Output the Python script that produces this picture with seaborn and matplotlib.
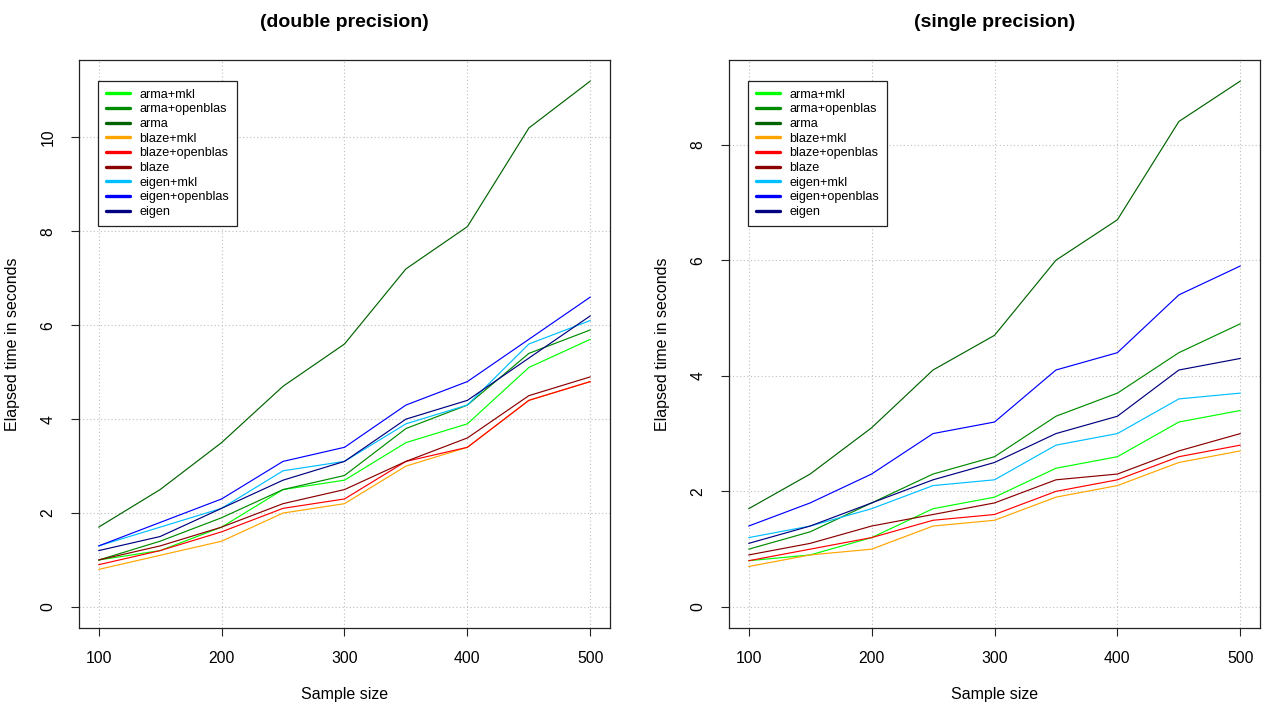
import matplotlib
matplotlib.use("Agg")
import matplotlib.pyplot as plt
from matplotlib.lines import Line2D
import seaborn as sns
import pandas as pd

# ---------------- data ----------------
sizes = [100, 150, 200, 250, 300, 350, 400, 450, 500]
series_names = ["arma+mkl", "arma+openblas", "arma",
                "blaze+mkl", "blaze+openblas", "blaze",
                "eigen+mkl", "eigen+openblas", "eigen"]
series_colors = ["#00FF00", "#008B00", "#006400",
                 "#FFA500", "#FF0000", "#8B0000",
                 "#00BFFF", "#0000FF", "#000080"]

# double precision
arma_mkl_d = [1.0, 1.2, 1.7, 2.5, 2.7, 3.5, 3.9, 5.1, 5.7]
arma_openblas_d = [1.0, 1.4, 1.9, 2.5, 2.8, 3.8, 4.3, 5.4, 5.9]
arma_d = [1.7, 2.5, 3.5, 4.7, 5.6, 7.2, 8.1, 10.2, 11.2]
blaze_mkl_d = [0.8, 1.1, 1.4, 2.0, 2.2, 3.0, 3.4, 4.4, 4.8]
blaze_openblas_d = [0.9, 1.2, 1.6, 2.1, 2.3, 3.1, 3.4, 4.4, 4.8]
blaze_d = [1.0, 1.3, 1.7, 2.2, 2.5, 3.1, 3.6, 4.5, 4.9]
eigen_mkl_d = [1.3, 1.7, 2.1, 2.9, 3.1, 3.9, 4.3, 5.6, 6.1]
eigen_openblas_d = [1.3, 1.8, 2.3, 3.1, 3.4, 4.3, 4.8, 5.7, 6.6]
eigen_d = [1.2, 1.5, 2.1, 2.7, 3.1, 4.0, 4.4, 5.3, 6.2]

# single precision
arma_mkl_s = [0.8, 0.9, 1.2, 1.7, 1.9, 2.4, 2.6, 3.2, 3.4]
arma_openblas_s = [1.0, 1.3, 1.8, 2.3, 2.6, 3.3, 3.7, 4.4, 4.9]
arma_s = [1.7, 2.3, 3.1, 4.1, 4.7, 6.0, 6.7, 8.4, 9.1]
blaze_mkl_s = [0.7, 0.9, 1.0, 1.4, 1.5, 1.9, 2.1, 2.5, 2.7]
blaze_openblas_s = [0.8, 1.0, 1.2, 1.5, 1.6, 2.0, 2.2, 2.6, 2.8]
blaze_s = [0.9, 1.1, 1.4, 1.6, 1.8, 2.2, 2.3, 2.7, 3.0]
eigen_mkl_s = [1.2, 1.4, 1.7, 2.1, 2.2, 2.8, 3.0, 3.6, 3.7]
eigen_openblas_s = [1.4, 1.8, 2.3, 3.0, 3.2, 4.1, 4.4, 5.4, 5.9]
eigen_s = [1.1, 1.4, 1.8, 2.2, 2.5, 3.0, 3.3, 4.1, 4.3]

double_vals = [arma_mkl_d, arma_openblas_d, arma_d, blaze_mkl_d, blaze_openblas_d,
               blaze_d, eigen_mkl_d, eigen_openblas_d, eigen_d]
single_vals = [arma_mkl_s, arma_openblas_s, arma_s, blaze_mkl_s, blaze_openblas_s,
               blaze_s, eigen_mkl_s, eigen_openblas_s, eigen_s]

titles = ["(double precision)", "(single precision)"]
ymax = [11.2, 9.1]
yticks_list = [[0, 2, 4, 6, 8, 10], [0, 2, 4, 6, 8]]
xticks = [100, 200, 300, 400, 500]


def long_df(vals):
    rows = []
    for name, v in zip(series_names, vals):
        for s, t in zip(sizes, v):
            rows.append({"size": s, "time": t, "series": name})
    return pd.DataFrame(rows)


# ---------------- style ----------------
sns.set_style("white")
plt.rcParams["font.family"] = ["Liberation Sans", "DejaVu Sans"]
plt.rcParams["text.color"] = "black"
plt.rcParams["axes.labelcolor"] = "black"
plt.rcParams["xtick.color"] = "black"
plt.rcParams["ytick.color"] = "black"

W, H = 1277, 712
fig = plt.figure(figsize=(W / 100, H / 100), dpi=100)
palette = dict(zip(series_names, series_colors))

ax_boxes = [(79, 60, 610, 628), (729, 60, 1260, 628)]

for i, (vals, box) in enumerate(zip([double_vals, single_vals], ax_boxes)):
    l, t, r, b = box
    aw, ah = r - l, b - t
    ax = fig.add_axes([l / W, 1 - b / H, aw / W, ah / H])
    df = long_df(vals)
    sns.lineplot(data=df, x="size", y="time", hue="series", hue_order=series_names,
                 palette=palette, linewidth=0.85, legend=False, ax=ax, zorder=3)

    ext_x = 400 * 0.04
    ax.set_xlim(100 - ext_x, 500 + ext_x)
    ax.set_ylim(-ymax[i] * 0.04, ymax[i] * 1.04)
    ax.set_xticks(xticks)
    ax.set_yticks(yticks_list[i])
    ax.grid(True, linestyle=(0, (1, 2.2)), color="#BEBEBE", linewidth=0.8, zorder=0)
    ax.set_axisbelow(True)

    for sp in ax.spines.values():
        sp.set_color("#222222")
        sp.set_linewidth(0.9)

    ax.tick_params(axis="both", which="major", direction="out", length=6,
                   width=0.8, color="#222222", labelsize=11.3, labelcolor="black",
                   bottom=True, left=True)
    ax.tick_params(axis="x", pad=10.5)
    ax.tick_params(axis="y", pad=16.5)
    for lab in ax.get_yticklabels():
        lab.set_rotation(90)
        lab.set_ha("center")
        lab.set_va("center")

    ax.set_xlabel("Sample size", fontsize=11.5, color="black")
    ax.set_ylabel("Elapsed time in seconds", fontsize=11.5, color="black")
    ax.xaxis.set_label_coords(0.5, -(687 - b) / ah)
    ax.xaxis.label.set_va("top")
    ax.yaxis.set_label_coords(-59 / aw, 0.5)

    ax.set_title(titles[i], fontsize=14, fontweight="bold", color="black",
                 y=1 + (t - 22) / ah, va="center", pad=0)

    handles = [Line2D([0], [0], color=c, lw=2.4) for c in series_colors]
    leg = ax.legend(handles, series_names, loc="upper left",
                    bbox_to_anchor=((98 - 79) / aw, 1 - (81 - 60) / ah),
                    borderaxespad=0, fontsize=9.1, frameon=True, fancybox=False,
                    edgecolor="#222222", framealpha=1, labelspacing=0.21,
                    handlelength=1.9, handletextpad=0.75, borderpad=0.62)
    leg.get_frame().set_linewidth(0.9)
    for txt in leg.get_texts():
        txt.set_color("black")
    leg.set_zorder(5)

fig.savefig("out.png", dpi=100)
